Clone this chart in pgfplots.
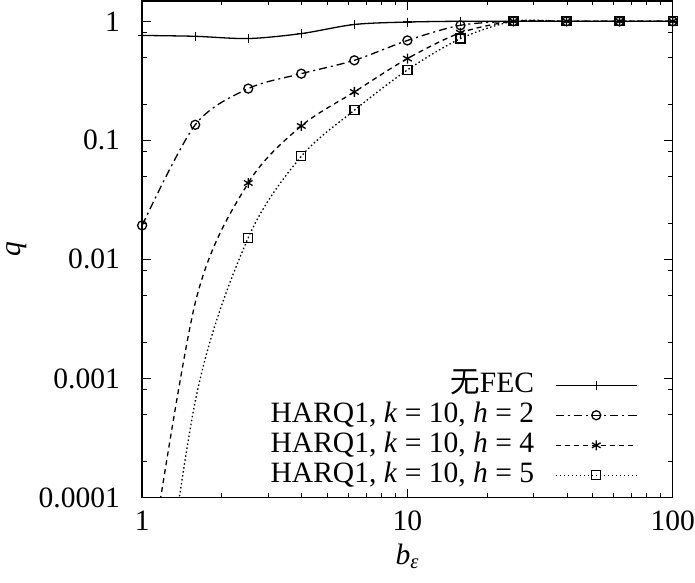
\documentclass[border=0pt]{standalone}
\usepackage{fontspec}
\setmainfont{Liberation Serif}
\newfontfamily\cjk{Noto Sans CJK SC}
\usepackage{pgfplots}
\pgfplotsset{compat=1.18}
\newcommand{\bigf}{\fontsize{29.5}{35}\selectfont}
\begin{document}
\bigf
\begin{tikzpicture}[font=\bigf]
\begin{axis}[
  font=\bigf,
  xmode=log, ymode=log,
  scale only axis, width=530pt, height=496pt,
  xmin=1, xmax=100, ymin=1e-4, ymax=1.48,
  xtick={1,10,100}, xticklabels={1,10,100},
  minor xtick={2,3,4,5,6,7,8,9,20,30,40,50,60,70,80,90},
  ytick={1e-4,1e-3,1e-2,0.1,1}, yticklabels={0.0001,0.001,0.01,0.1,1},
  minor ytick={2e-4,5e-4,8e-4,2e-3,5e-3,8e-3,0.02,0.05,0.08,0.2,0.5,0.8},
  tick align=inside,
  major tick length=9pt, minor tick length=4.5pt,
  every tick/.style={black, line width=1pt},
  axis line style={line width=1.5pt},
  tick label style={font=\bigf, inner sep=0pt},
  xticklabel style={yshift=-13pt},
  yticklabel style={xshift=-22pt},
  label style={font=\bigf, inner sep=0pt},
  xlabel={\textit{b}\textsubscript{\textit{ε}}},
  ylabel={\textit{q}},
  x label style={at={(axis description cs:0.5,-0.093)}, anchor=north},
  y label style={at={(axis description cs:-0.236,0.5)}, anchor=center},
  legend plot pos=right,
  legend style={draw=none, fill=none, font=\bigf, at={(0.934,0.014)}, anchor=south east,
    inner sep=0pt, row sep=0pt, column sep=20pt,
    nodes={inner sep=1pt, text height=21pt, text depth=7pt},
    cells={anchor=east}},
  legend image code/.code={\draw[mark repeat=2,mark phase=2] plot coordinates {(0pt,0pt) (40.5pt,0pt) (81pt,0pt)};},
]
\addplot[black, line width=1.3pt, smooth, mark=+, mark size=4.5pt, mark options={solid}]
  coordinates {(1,0.76) (1.585,0.748) (2.512,0.716) (3.981,0.788) (6.310,0.94) (10,0.985) (15.85,1) (25.12,1) (39.81,1) (63.10,1) (100,1)};
\addlegendentry{{\cjk 无}FEC}
\addplot[black, line width=1.3pt, smooth, dash pattern=on 8pt off 4pt on 2pt off 4pt, mark=o, mark size=4.5pt, mark options={solid}]
  coordinates {(1,0.0193) (1.585,0.135) (2.512,0.272) (3.981,0.363) (6.310,0.47) (10,0.69) (15.85,0.925) (25.12,1) (39.81,1) (63.10,1) (100,1)};
\addlegendentry{HARQ1, \textit{k} = 10, \textit{h} = 2}
\addlegendimage{black, line width=1.3pt, dash pattern=on 5pt off 4pt, mark=asterisk, mark size=5pt, mark options={solid}}
\addlegendentry{HARQ1, \textit{k} = 10, \textit{h} = 4}
\addlegendimage{black, line width=1.3pt, dash pattern=on 1.5pt off 2.5pt, mark=square, mark size=4.5pt, mark options={solid}}
\addlegendentry{HARQ1, \textit{k} = 10, \textit{h} = 5}
\addplot[forget plot, black, line width=1.3pt, smooth, dash pattern=on 5pt off 4pt, mark=asterisk, mark size=5pt, mark options={solid}, mark indices={2,3,4,5,6,7,8,9,10,11}]
  coordinates {(1,1e-5) (1.585,0.0043) (2.512,0.0438) (3.981,0.132) (6.310,0.255) (10,0.486) (15.85,0.80) (25.12,1) (39.81,1) (63.10,1) (100,1)};
\addplot[forget plot, black, line width=1.3pt, smooth, dash pattern=on 1.5pt off 2.5pt, mark=square, mark size=4.5pt, mark options={solid}, mark indices={2,3,4,5,6,7,8,9,10,11}]
  coordinates {(1,6e-7) (1.585,0.00064) (2.512,0.0152) (3.981,0.0734) (6.310,0.179) (10,0.39) (15.85,0.715) (25.12,1) (39.81,1) (63.10,1) (100,1)};
\end{axis}
\pgfresetboundingbox
\path ([shift={(-142pt,-85.3pt)}]current axis.south west) rectangle ([shift={(22.3pt,1pt)}]current axis.north east);
\end{tikzpicture}
\end{document}
